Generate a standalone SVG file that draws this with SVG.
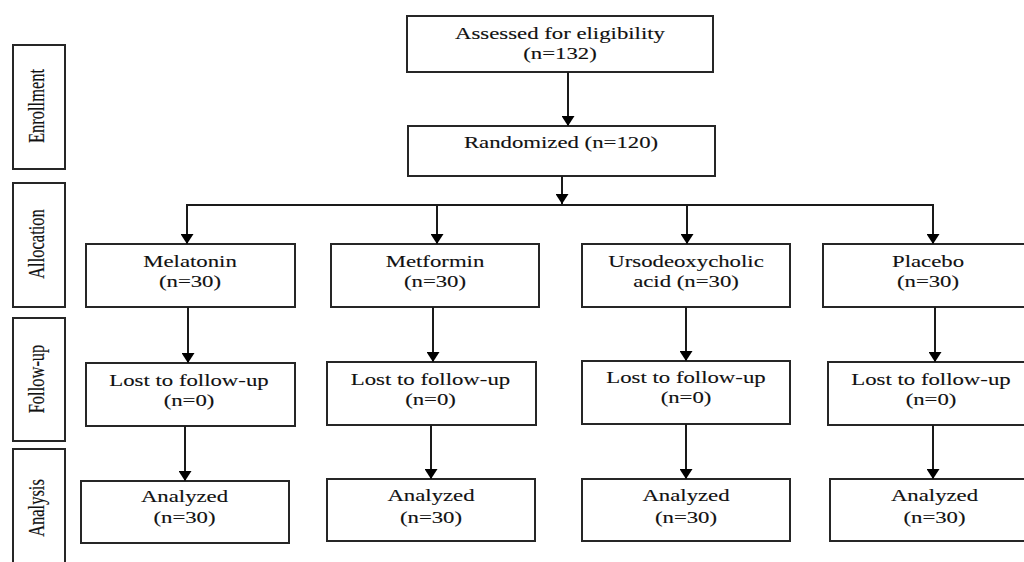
<svg xmlns="http://www.w3.org/2000/svg" width="1024" height="562" viewBox="0 0 1024 562">
<style>
.box{fill:#fff;stroke:#262626;stroke-width:2}
.t{font-family:"Liberation Serif","Times New Roman",serif;font-size:16.5px;fill:#111;stroke:#111;stroke-width:0.12;text-anchor:middle}
.c{stroke:#1a1a1a;stroke-width:2;fill:none}
.a{marker-end:url(#arr)}
</style>
<defs>
<marker id="arr" markerUnits="userSpaceOnUse" viewBox="0 0 10 13" markerWidth="10" markerHeight="13" refX="10" refY="6.5" orient="auto">
<path d="M0,0 L10,6.5 L0,13 z" fill="#000"/>
</marker>
</defs>
<rect width="1024" height="562" fill="#fff"/>

<g id="stage-enrollment">
<rect class="box" x="13" y="45" width="52" height="124"/>
<text class="t" transform="translate(44,106) scale(1.38,1) rotate(-90)">Enrollment</text>
</g>
<g id="stage-allocation">
<rect class="box" x="13" y="183" width="52" height="124"/>
<text class="t" transform="translate(44,244) scale(1.38,1) rotate(-90)">Allocation</text>
</g>
<g id="stage-followup">
<rect class="box" x="13" y="318" width="52" height="123"/>
<text class="t" transform="translate(44,379) scale(1.38,1) rotate(-90)">Follow-up</text>
</g>
<g id="stage-analysis">
<rect class="box" x="13" y="449" width="52" height="130"/>
<text class="t" transform="translate(44,508) scale(1.38,1) rotate(-90)">Analysis</text>
</g>

<g id="assessed">
<rect class="box" x="407" y="16" width="306" height="56"/>
<text class="t" transform="translate(560,0) scale(1.38,1)"><tspan x="0" y="39.5">Assessed for eligibility</tspan><tspan x="0" y="59">(n=132)</tspan></text>
</g>
<g id="randomized">
<rect class="box" x="408" y="126" width="307" height="50"/>
<text class="t" transform="translate(561,0) scale(1.38,1)"><tspan x="0" y="148">Randomized (n=120)</tspan></text>
</g>

<g id="melatonin">
<rect class="box" x="86" y="244" width="209" height="63"/>
<text class="t" transform="translate(190,0) scale(1.38,1)"><tspan x="0" y="267.5">Melatonin</tspan><tspan x="0" y="287">(n=30)</tspan></text>
</g>
<g id="metformin">
<rect class="box" x="331" y="244" width="208" height="63"/>
<text class="t" transform="translate(435,0) scale(1.38,1)"><tspan x="0" y="267.5">Metformin</tspan><tspan x="0" y="287">(n=30)</tspan></text>
</g>
<g id="urso">
<rect class="box" x="582" y="244" width="208" height="63"/>
<text class="t" transform="translate(686,0) scale(1.38,1)"><tspan x="0" y="267.5">Ursodeoxycholic</tspan><tspan x="0" y="287.5">acid (n=30)</tspan></text>
</g>
<g id="placebo">
<rect class="box" x="823" y="244" width="220" height="63"/>
<text class="t" transform="translate(928,0) scale(1.38,1)"><tspan x="0" y="267.5">Placebo</tspan><tspan x="0" y="287">(n=30)</tspan></text>
</g>

<g id="lost-melatonin">
<rect class="box" x="86" y="363" width="209" height="63"/>
<text class="t" transform="translate(189,0) scale(1.38,1)"><tspan x="0" y="386">Lost to follow-up</tspan><tspan x="0" y="406">(n=0)</tspan></text>
</g>
<g id="lost-metformin">
<rect class="box" x="327" y="362" width="209" height="63"/>
<text class="t" transform="translate(430.5,0) scale(1.38,1)"><tspan x="0" y="385">Lost to follow-up</tspan><tspan x="0" y="405">(n=0)</tspan></text>
</g>
<g id="lost-urso">
<rect class="box" x="582" y="361" width="208" height="63"/>
<text class="t" transform="translate(686,0) scale(1.38,1)"><tspan x="0" y="383.5">Lost to follow-up</tspan><tspan x="0" y="403.5">(n=0)</tspan></text>
</g>
<g id="lost-placebo">
<rect class="box" x="828" y="362" width="220" height="63"/>
<text class="t" transform="translate(931,0) scale(1.38,1)"><tspan x="0" y="385">Lost to follow-up</tspan><tspan x="0" y="405.5">(n=0)</tspan></text>
</g>

<g id="analyzed-melatonin">
<rect class="box" x="81" y="481" width="208" height="62"/>
<text class="t" transform="translate(184.5,0) scale(1.38,1)"><tspan x="0" y="502.5">Analyzed</tspan><tspan x="0" y="523">(n=30)</tspan></text>
</g>
<g id="analyzed-metformin">
<rect class="box" x="327" y="479" width="208" height="62"/>
<text class="t" transform="translate(431,0) scale(1.38,1)"><tspan x="0" y="501.5">Analyzed</tspan><tspan x="0" y="523">(n=30)</tspan></text>
</g>
<g id="analyzed-urso">
<rect class="box" x="582" y="479" width="208" height="62"/>
<text class="t" transform="translate(686,0) scale(1.38,1)"><tspan x="0" y="501.5">Analyzed</tspan><tspan x="0" y="523">(n=30)</tspan></text>
</g>
<g id="analyzed-placebo">
<rect class="box" x="830" y="479" width="220" height="62"/>
<text class="t" transform="translate(934.5,0) scale(1.38,1)"><tspan x="0" y="501.5">Analyzed</tspan><tspan x="0" y="523">(n=30)</tspan></text>
</g>

<g id="connectors">
<line class="c a" x1="568" y1="72" x2="568" y2="126"/>
<line class="c a" x1="562" y1="176" x2="562" y2="204"/>
<line class="c" x1="186" y1="205" x2="934" y2="205"/>
<line class="c a" x1="187" y1="204" x2="187" y2="244"/>
<line class="c a" x1="437" y1="204" x2="437" y2="244"/>
<line class="c a" x1="687" y1="204" x2="687" y2="244"/>
<line class="c a" x1="933" y1="204" x2="933" y2="244"/>
<line class="c a" x1="188" y1="307" x2="188" y2="363"/>
<line class="c a" x1="433" y1="307" x2="433" y2="362"/>
<line class="c a" x1="686" y1="307" x2="686" y2="361"/>
<line class="c a" x1="935" y1="307" x2="935" y2="362"/>
<line class="c a" x1="185" y1="426" x2="185" y2="481"/>
<line class="c a" x1="431" y1="425" x2="431" y2="479"/>
<line class="c a" x1="686" y1="424" x2="686" y2="479"/>
<line class="c a" x1="933" y1="425" x2="933" y2="479"/>
</g>
</svg>
